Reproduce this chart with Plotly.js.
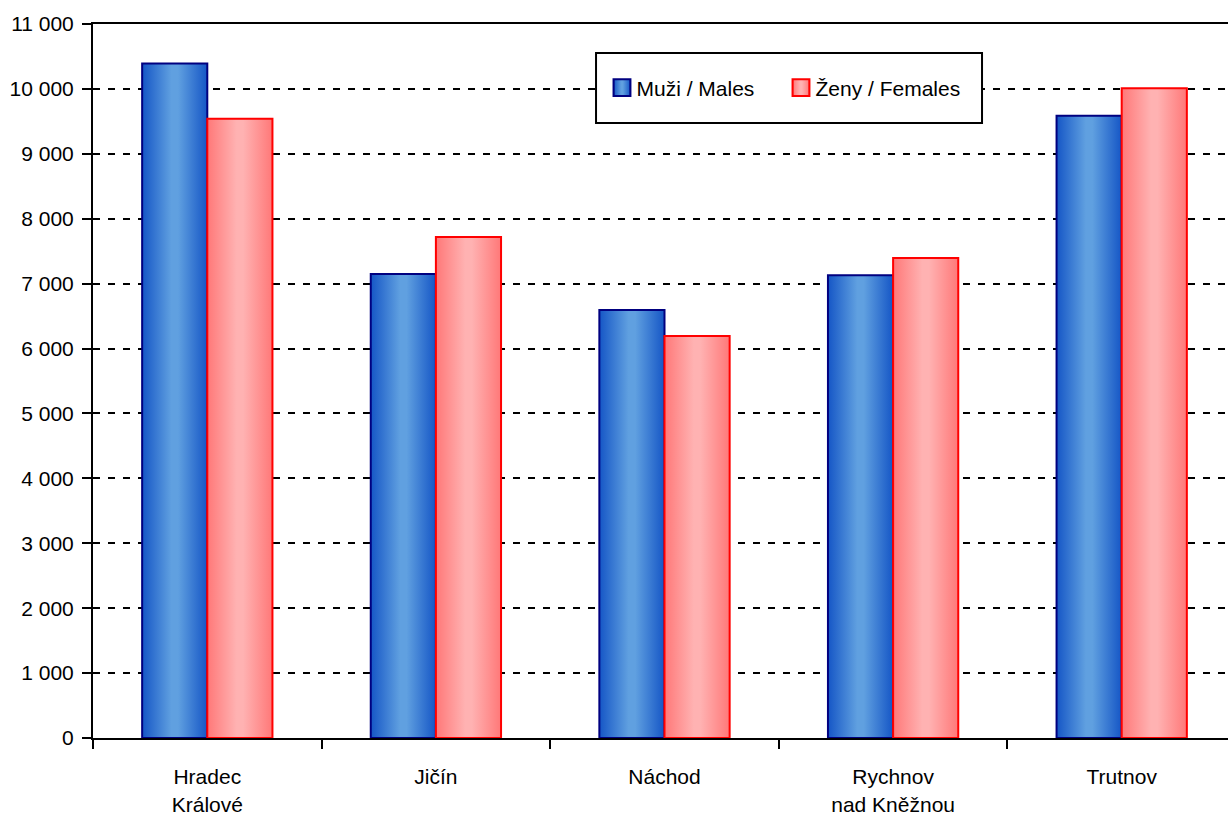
<!DOCTYPE html>
<html><head><meta charset="utf-8">
<script src="https://cdn.plot.ly/plotly-3.0.1.min.js"></script>
<style>html,body{margin:0;padding:0;overflow:hidden;background:#fff;}#chart{width:1240px;height:821px;}</style>
</head><body><div id="chart"></div>
<script>
const categories = ["Hradec<br>Králové", "Jičín", "Náchod", "Rychnov<br>nad Kněžnou", "Trutnov"];
const males = [10390, 7150, 6595, 7130, 9585];
const females = [9540, 7720, 6195, 7395, 10010];
const seriesNames = ["Muži / Males", "Ženy / Females"];
const yTickVals = [0,1000,2000,3000,4000,5000,6000,7000,8000,9000,10000,11000];
const yTickText = ["0","1 000","2 000","3 000","4 000","5 000","6 000","7 000","8 000","9 000","10 000","11 000"];

const font = {family: "Liberation Sans, Arial, sans-serif", size: 21, color: "#000"};
const data = [
  {type: "bar", name: seriesNames[0], x: categories, y: males,
   marker: {color: "#4A88D8", line: {color: "#000080", width: 2}}},
  {type: "bar", name: seriesNames[1], x: categories, y: females,
   marker: {color: "#FF9A9A", line: {color: "#FF0000", width: 2}}}
];
const layout = {
  width: 1240, height: 821,
  margin: {l: 93, r: 4, t: 24, b: 83},
  paper_bgcolor: "#fff", plot_bgcolor: "#fff",
  font: font,
  barmode: "group", bargap: 0.43, bargroupgap: 0,
  showlegend: true,
  legend: {orientation: "h", x: 0.4405, y: 0.9104, xanchor: "left", yanchor: "middle",
    bgcolor: "rgba(0,0,0,0)", borderwidth: 0, font: font,
    entrywidth: 134, entrywidthmode: "pixels", tracegroupgap: 0},
  shapes: [{type: "rect", xref: "paper", yref: "paper", x0: 0.4401, x1: 0.7778, y0: 0.8613, y1: 0.9594,
    line: {color: "#000", width: 2}, fillcolor: "#fff", layer: "above"}],
  xaxis: {showline: true, linecolor: "#000", linewidth: 2, mirror: true,
    ticks: "outside", tickson: "boundaries", ticklen: 9, tickwidth: 2, tickcolor: "#000",
    ticklabelstandoff: 19,
    showgrid: false, tickfont: font, fixedrange: true},
  yaxis: {range: [0, 11000], tickvals: yTickVals, ticktext: yTickText,
    showline: true, linecolor: "#000", linewidth: 2,
    ticks: "outside", ticklen: 9, tickwidth: 2, tickcolor: "#000",
    ticklabelstandoff: 4,
    showgrid: true, gridcolor: "#000", gridwidth: 2, griddash: "7px,8px",
    zeroline: false, tickfont: font, fixedrange: true}
};

function addGradients(gd) {
  const svg = gd.querySelector(".main-svg");
  const ns = "http://www.w3.org/2000/svg";
  if (!document.getElementById("gradM")) {
    const defs = document.createElementNS(ns, "defs");
    const mk = (id, edge, mid) => {
      const g = document.createElementNS(ns, "linearGradient");
      g.setAttribute("id", id);
      g.setAttribute("x1", "0"); g.setAttribute("x2", "1");
      g.setAttribute("y1", "0"); g.setAttribute("y2", "0");
      [[0, edge], [0.45, mid], [0.55, mid], [1, edge]].forEach(([o, c]) => {
        const s = document.createElementNS(ns, "stop");
        s.setAttribute("offset", o); s.setAttribute("stop-color", c);
        g.appendChild(s);
      });
      defs.appendChild(g);
    };
    mk("gradM", "#1556C6", "#60A0E0");
    mk("gradF", "#FF7878", "#FFB2B2");
    svg.insertBefore(defs, svg.firstChild);
  }
  const traces = gd.querySelectorAll(".barlayer .trace");
  traces.forEach((t, i) => {
    t.querySelectorAll("path").forEach(p => { p.style.fill = i === 0 ? "url(#gradM)" : "url(#gradF)"; });
  });
  gd.querySelectorAll(".legend [clip-path]").forEach(e => e.removeAttribute("clip-path"));
  const lg = gd.querySelectorAll(".legend .traces");
  lg.forEach((t, i) => {
    t.querySelectorAll(".legendpoints path").forEach(p => {
      p.style.fill = i === 0 ? "url(#gradM)" : "url(#gradF)";
      if (p.dataset.orig === undefined) p.dataset.orig = p.getAttribute("transform") || "";
      p.setAttribute("transform", p.dataset.orig + " translate(5.5,0) scale(1.4)");
      p.style.strokeWidth = "1.5px";
    });
  });
}
Plotly.newPlot("chart", data, layout, {staticPlot: true}).then(gd => {
  addGradients(gd);
  gd.on("plotly_afterplot", () => addGradients(gd));
});
</script></body></html>
